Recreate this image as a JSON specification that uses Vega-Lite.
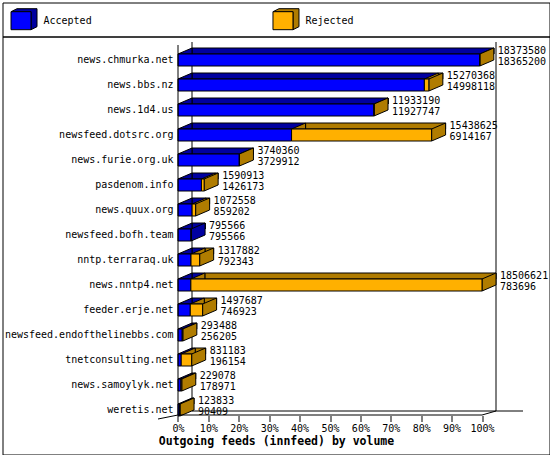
{
  "$schema": "https://vega.github.io/schema/vega-lite/v6.json",
  "padding": 1.5,
  "spacing": 0,
  "bounds": "flush",
  "background": "white",
  "config": {
    "view": {"stroke": "black", "strokeWidth": 1},
    "font": "DejaVu Sans Mono",
    "text": {"font": "DejaVu Sans Mono", "fontSize": 10, "color": "black"}
  },
  "datasets": {
    "feeds": [
      {"host": "news.chmurka.net", "total": 18373580, "accepted": 18365200},
      {"host": "news.bbs.nz", "total": 15270368, "accepted": 14998118},
      {"host": "news.1d4.us", "total": 11933190, "accepted": 11927747},
      {"host": "newsfeed.dotsrc.org", "total": 15438625, "accepted": 6914167},
      {"host": "news.furie.org.uk", "total": 3740360, "accepted": 3729912},
      {"host": "pasdenom.info", "total": 1590913, "accepted": 1426173},
      {"host": "news.quux.org", "total": 1072558, "accepted": 859202},
      {"host": "newsfeed.bofh.team", "total": 795566, "accepted": 795566},
      {"host": "nntp.terraraq.uk", "total": 1317882, "accepted": 792343},
      {"host": "news.nntp4.net", "total": 18506621, "accepted": 783696},
      {"host": "feeder.erje.net", "total": 1497687, "accepted": 746923},
      {"host": "newsfeed.endofthelinebbs.com", "total": 293488, "accepted": 256205},
      {"host": "tnetconsulting.net", "total": 831183, "accepted": 196154},
      {"host": "news.samoylyk.net", "total": 229078, "accepted": 178971},
      {"host": "weretis.net", "total": 123833, "accepted": 90409}
    ],
    "legend": [{"status": "Accepted"}, {"status": "Rejected"}],
    "one": [{}]
  },
  "vconcat": [
    {
      "width": 547,
      "height": 34,
      "data": {"name": "legend"},
      "encoding": {
        "x": {"field": "status", "type": "nominal", "bandPosition": 0,
              "scale": {"type": "band", "domain": ["Accepted", "Rejected"], "paddingInner": 0, "paddingOuter": 0.044, "align": 0},
              "axis": null}
      },
      "layer": [
        {
          "mark": {"type": "point", "shape": "M-10,-9 L-4,-12 L16,-12 L16,6 L10,9 L10,-9 Z", "size": 4, "xOffset": 18.5, "yOffset": 1.2, "filled": true, "stroke": "black", "strokeWidth": 1, "opacity": 1},
          "encoding": {
            "fill": {"condition": {"test": "datum.status === 'Accepted'", "value": "#0000A0"}, "value": "#B07C00"}
          }
        },
        {
          "mark": {"type": "point", "shape": "M-10,-9 L10,-9 L10,9 L-10,9 Z", "size": 4, "xOffset": 18.5, "yOffset": 1.2, "filled": true, "stroke": "black", "strokeWidth": 1, "opacity": 1},
          "encoding": {
            "fill": {"condition": {"test": "datum.status === 'Accepted'", "value": "#0000FF"}, "value": "#FFB000"}
          }
        },
        {
          "mark": {"type": "text", "align": "left", "baseline": "middle", "dx": 41, "dy": 1, "fontSize": 10},
          "encoding": {"text": {"field": "status", "type": "nominal"}}
        }
      ]
    },
    {
      "width": 547,
      "height": 418,
      "data": {"name": "feeds"},
      "encoding": {
        "y": {"field": "host", "type": "nominal",
              "scale": {"domain": ["news.chmurka.net", "news.bbs.nz", "news.1d4.us", "newsfeed.dotsrc.org", "news.furie.org.uk", "pasdenom.info", "news.quux.org", "newsfeed.bofh.team", "nntp.terraraq.uk", "news.nntp4.net", "feeder.erje.net", "newsfeed.endofthelinebbs.com", "tnetconsulting.net", "news.samoylyk.net", "weretis.net"],
                        "paddingInner": 0, "paddingOuter": 0.86, "align": 0.256},
              "axis": {"orient": "left", "offset": -175.5, "domain": false, "ticks": false, "labelPadding": 5, "labelFont": "DejaVu Sans Mono", "labelFontSize": 10, "labelColor": "black", "labelLimit": 0, "title": null}}
      },
      "layer": [
        {
          "data": {"name": "one"},
          "mark": {"type": "rule", "color": "black", "strokeWidth": 1, "xOffset": 14, "yOffset": -18, "y2Offset": 1},
          "encoding": {
            "x": {"datum": 0, "type": "quantitative"},
            "y": {"datum": "news.chmurka.net", "type": "nominal"},
            "y2": {"datum": "weretis.net"}
          }
        },
        {
          "data": {"name": "one"},
          "mark": {"type": "rule", "color": "black", "strokeWidth": 1, "xOffset": 14, "yOffset": -18, "y2Offset": 1},
          "encoding": {
            "x": {"datum": 18506621, "type": "quantitative"},
            "y": {"datum": "news.chmurka.net", "type": "nominal"},
            "y2": {"datum": "weretis.net"}
          }
        },
        {
          "data": {"name": "one"},
          "mark": {"type": "rule", "color": "black", "strokeWidth": 1, "xOffset": 14, "x2Offset": 41, "yOffset": 1, "y2Offset": 1},
          "encoding": {
            "x": {"datum": 0, "type": "quantitative"},
            "x2": {"datum": 18506621},
            "y": {"datum": "weretis.net", "type": "nominal"},
            "y2": {"datum": "weretis.net"}
          }
        },
        {
          "mark": {"type": "bar", "size": 6, "xOffset": 14, "x2Offset": 14, "yOffset": -9, "color": "#0000A0", "stroke": "black", "strokeWidth": 1},
          "encoding": {
            "x": {"field": "accepted", "type": "quantitative",
                  "scale": {"domain": [-10683920, 22615820], "nice": false, "zero": false},
                  "axis": {"orient": "bottom", "offset": -39, "values": [0, 1850662.1, 3701324.2, 5551986.3, 7402648.4, 9253310.5, 11103972.6, 12954634.7, 14805296.8, 16655958.9, 18506621],
                           "labelExpr": "round(datum.value / 18506621 * 100) + '%'",
                           "domain": false, "grid": false, "tickSize": 6, "tickColor": "black", "labelPadding": 2,
                           "labelFont": "DejaVu Sans Mono", "labelFontSize": 10, "labelColor": "black", "labelOverlap": false, "labelFlush": false,
                           "title": "Outgoing feeds (innfeed) by volume", "titleFont": "DejaVu Sans Mono", "titleFontWeight": "bold", "titleFontSize": 11.5, "titleColor": "black", "titlePadding": 2}}
          }
        },
        {
          "mark": {"type": "bar", "size": 6, "xOffset": 14, "x2Offset": 14, "yOffset": -9, "color": "#B07C00", "stroke": "black", "strokeWidth": 1},
          "encoding": {
            "x": {"field": "accepted", "type": "quantitative"},
            "x2": {"field": "total"}
          }
        },
        {
          "mark": {"type": "point", "shape": "M0,-6 L14,-12 L14,-6 Z", "size": 4, "filled": true, "opacity": 1, "color": "#0000A0", "stroke": "black", "strokeWidth": 1},
          "encoding": {
            "x": {"datum": 0, "type": "quantitative"}
          }
        },
        {
          "transform": [{"filter": "datum.total > datum.accepted"}],
          "mark": {"type": "point", "shape": "M0,-6 L14,-12 L14,-6 Z", "size": 4, "filled": true, "opacity": 1, "color": "#B07C00", "stroke": "black", "strokeWidth": 1},
          "encoding": {
            "x": {"field": "accepted", "type": "quantitative"}
          }
        },
        {
          "mark": {"type": "point", "shape": "M0,-6 L14,-12 L14,0 L0,6 Z", "size": 4, "filled": true, "opacity": 1, "stroke": "black", "strokeWidth": 1},
          "encoding": {
            "x": {"field": "total", "type": "quantitative"},
            "fill": {"condition": {"test": "datum.total > datum.accepted", "value": "#B07C00"}, "value": "#0000A0"}
          }
        },
        {
          "mark": {"type": "bar", "size": 12, "color": "#0000FF", "stroke": "black", "strokeWidth": 1},
          "encoding": {
            "x": {"field": "accepted", "type": "quantitative"}
          }
        },
        {
          "mark": {"type": "bar", "size": 12, "color": "#FFB000", "stroke": "black", "strokeWidth": 1},
          "encoding": {
            "x": {"field": "accepted", "type": "quantitative"},
            "x2": {"field": "total"}
          }
        },
        {
          "data": {"name": "one"},
          "mark": {"type": "rule", "color": "black", "strokeWidth": 1, "yOffset": -15, "y2Offset": 5},
          "encoding": {
            "x": {"datum": 0, "type": "quantitative"},
            "y": {"datum": "news.chmurka.net", "type": "nominal"},
            "y2": {"datum": "weretis.net"}
          }
        },
        {
          "data": {"name": "one"},
          "mark": {"type": "rule", "color": "black", "strokeWidth": 1, "yOffset": 5, "y2Offset": 5},
          "encoding": {
            "x": {"datum": 0, "type": "quantitative"},
            "x2": {"datum": 18506621},
            "y": {"datum": "weretis.net", "type": "nominal"},
            "y2": {"datum": "weretis.net"}
          }
        },
        {
          "data": {"name": "one"},
          "mark": {"type": "rule", "color": "black", "strokeWidth": 1, "x2Offset": 14, "yOffset": 5, "y2Offset": 1},
          "encoding": {
            "x": {"datum": 18506621, "type": "quantitative"},
            "x2": {"datum": 18506621},
            "y": {"datum": "weretis.net", "type": "nominal"},
            "y2": {"datum": "weretis.net"}
          }
        },
        {
          "data": {"name": "one"},
          "mark": {"type": "rule", "color": "black", "strokeWidth": 1, "xOffset": -20, "yOffset": 9, "y2Offset": 5},
          "encoding": {
            "x": {"datum": 0, "type": "quantitative"},
            "x2": {"datum": 0},
            "y": {"datum": "weretis.net", "type": "nominal"},
            "y2": {"datum": "weretis.net"}
          }
        },
        {
          "mark": {"type": "text", "align": "left", "baseline": "middle", "dx": 18, "dy": -9.5, "fontSize": 10},
          "encoding": {
            "x": {"field": "total", "type": "quantitative"},
            "text": {"field": "total", "type": "quantitative", "format": "d"}
          }
        },
        {
          "mark": {"type": "text", "align": "left", "baseline": "middle", "dx": 18, "dy": 1.5, "fontSize": 10},
          "encoding": {
            "x": {"field": "total", "type": "quantitative"},
            "text": {"field": "accepted", "type": "quantitative", "format": "d"}
          }
        }
      ]
    }
  ]
}
